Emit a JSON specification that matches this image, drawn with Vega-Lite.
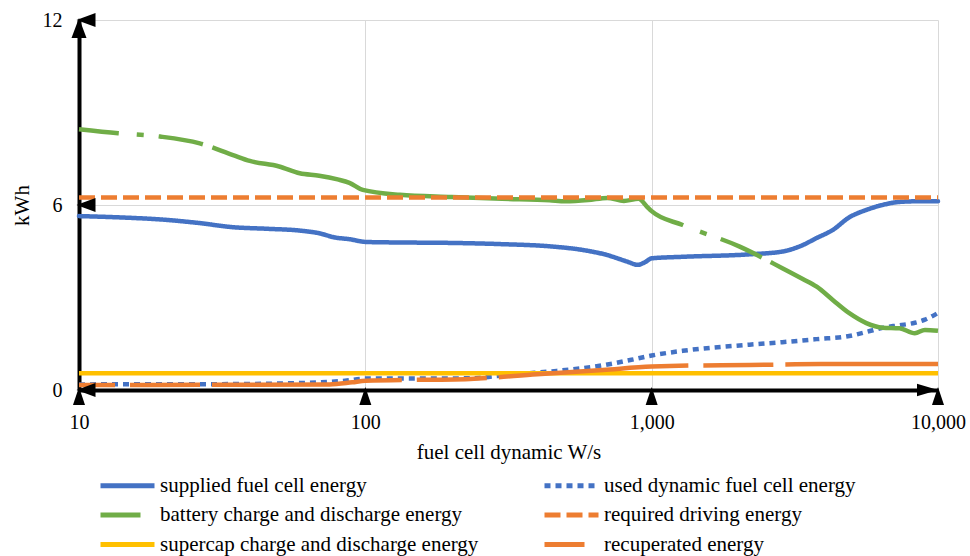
{
  "$schema": "https://vega.github.io/schema/vega-lite/v6.json",
  "width": 859,
  "height": 370,
  "autosize": {"type": "none"},
  "padding": {"left": 79, "top": 20, "right": 32, "bottom": 166},
  "background": "white",
  "config": {
    "font": "Liberation Serif",
    "view": {"stroke": null},
    "legend": {"labelFont": "Liberation Serif", "titleFont": "Liberation Serif"},
    "axis": {
      "grid": true,
      "gridColor": "#d9d9d9",
      "gridWidth": 1,
      "domainColor": "black",
      "domainWidth": 4,
      "ticks": false,
      "labelColor": "black",
      "labelFont": "Liberation Serif",
      "labelFontSize": 20,
      "titleFont": "Liberation Serif",
      "titleFontSize": 21,
      "titleFontWeight": "normal",
      "titleColor": "black",
      "labelOverlap": false,
      "labelFlush": false
    }
  },
  "datasets": {
    "lines": [
      {"s": "supplied fuel cell energy", "x": 10, "y": 5.64},
      {"s": "supplied fuel cell energy", "x": 13.7, "y": 5.6},
      {"s": "supplied fuel cell energy", "x": 20, "y": 5.52},
      {"s": "supplied fuel cell energy", "x": 26, "y": 5.42},
      {"s": "supplied fuel cell energy", "x": 34.5, "y": 5.28},
      {"s": "supplied fuel cell energy", "x": 45, "y": 5.23},
      {"s": "supplied fuel cell energy", "x": 59, "y": 5.17},
      {"s": "supplied fuel cell energy", "x": 70, "y": 5.07},
      {"s": "supplied fuel cell energy", "x": 77, "y": 4.96},
      {"s": "supplied fuel cell energy", "x": 88, "y": 4.89},
      {"s": "supplied fuel cell energy", "x": 101, "y": 4.8},
      {"s": "supplied fuel cell energy", "x": 150, "y": 4.78},
      {"s": "supplied fuel cell energy", "x": 200, "y": 4.77},
      {"s": "supplied fuel cell energy", "x": 300, "y": 4.73},
      {"s": "supplied fuel cell energy", "x": 440, "y": 4.66},
      {"s": "supplied fuel cell energy", "x": 575, "y": 4.54},
      {"s": "supplied fuel cell energy", "x": 697, "y": 4.38},
      {"s": "supplied fuel cell energy", "x": 818, "y": 4.17},
      {"s": "supplied fuel cell energy", "x": 894, "y": 4.06},
      {"s": "supplied fuel cell energy", "x": 950, "y": 4.15},
      {"s": "supplied fuel cell energy", "x": 1000, "y": 4.27},
      {"s": "supplied fuel cell energy", "x": 1283, "y": 4.32},
      {"s": "supplied fuel cell energy", "x": 2196, "y": 4.4},
      {"s": "supplied fuel cell energy", "x": 2860, "y": 4.49},
      {"s": "supplied fuel cell energy", "x": 3370, "y": 4.7},
      {"s": "supplied fuel cell energy", "x": 3770, "y": 4.93},
      {"s": "supplied fuel cell energy", "x": 4290, "y": 5.19},
      {"s": "supplied fuel cell energy", "x": 4900, "y": 5.6},
      {"s": "supplied fuel cell energy", "x": 5620, "y": 5.84},
      {"s": "supplied fuel cell energy", "x": 6400, "y": 6.0},
      {"s": "supplied fuel cell energy", "x": 7340, "y": 6.1},
      {"s": "supplied fuel cell energy", "x": 8500, "y": 6.12},
      {"s": "supplied fuel cell energy", "x": 10000, "y": 6.12},

      {"s": "used dynamic fuel cell energy", "x": 10, "y": 0.18},
      {"s": "used dynamic fuel cell energy", "x": 20, "y": 0.19},
      {"s": "used dynamic fuel cell energy", "x": 30, "y": 0.19},
      {"s": "used dynamic fuel cell energy", "x": 50, "y": 0.21},
      {"s": "used dynamic fuel cell energy", "x": 70, "y": 0.25},
      {"s": "used dynamic fuel cell energy", "x": 85, "y": 0.3},
      {"s": "used dynamic fuel cell energy", "x": 100, "y": 0.37},
      {"s": "used dynamic fuel cell energy", "x": 150, "y": 0.37},
      {"s": "used dynamic fuel cell energy", "x": 232, "y": 0.38},
      {"s": "used dynamic fuel cell energy", "x": 288, "y": 0.45},
      {"s": "used dynamic fuel cell energy", "x": 350, "y": 0.52},
      {"s": "used dynamic fuel cell energy", "x": 466, "y": 0.62},
      {"s": "used dynamic fuel cell energy", "x": 675, "y": 0.8},
      {"s": "used dynamic fuel cell energy", "x": 850, "y": 0.98},
      {"s": "used dynamic fuel cell energy", "x": 1000, "y": 1.12},
      {"s": "used dynamic fuel cell energy", "x": 1283, "y": 1.27},
      {"s": "used dynamic fuel cell energy", "x": 2196, "y": 1.47},
      {"s": "used dynamic fuel cell energy", "x": 2860, "y": 1.55},
      {"s": "used dynamic fuel cell energy", "x": 3770, "y": 1.65},
      {"s": "used dynamic fuel cell energy", "x": 4900, "y": 1.75},
      {"s": "used dynamic fuel cell energy", "x": 5620, "y": 1.88},
      {"s": "used dynamic fuel cell energy", "x": 6400, "y": 2.02},
      {"s": "used dynamic fuel cell energy", "x": 7340, "y": 2.1},
      {"s": "used dynamic fuel cell energy", "x": 8300, "y": 2.18},
      {"s": "used dynamic fuel cell energy", "x": 9000, "y": 2.28},
      {"s": "used dynamic fuel cell energy", "x": 10000, "y": 2.5},

      {"s": "battery charge and discharge energy", "x": 10, "y": 8.46},
      {"s": "battery charge and discharge energy", "x": 13.7, "y": 8.33},
      {"s": "battery charge and discharge energy", "x": 19.2, "y": 8.22},
      {"s": "battery charge and discharge energy", "x": 26.4, "y": 8.0},
      {"s": "battery charge and discharge energy", "x": 34.5, "y": 7.62},
      {"s": "battery charge and discharge energy", "x": 39.5, "y": 7.43},
      {"s": "battery charge and discharge energy", "x": 50, "y": 7.25},
      {"s": "battery charge and discharge energy", "x": 59, "y": 7.03},
      {"s": "battery charge and discharge energy", "x": 69, "y": 6.95},
      {"s": "battery charge and discharge energy", "x": 80, "y": 6.83},
      {"s": "battery charge and discharge energy", "x": 88, "y": 6.72},
      {"s": "battery charge and discharge energy", "x": 98, "y": 6.49},
      {"s": "battery charge and discharge energy", "x": 132, "y": 6.33},
      {"s": "battery charge and discharge energy", "x": 200, "y": 6.26},
      {"s": "battery charge and discharge energy", "x": 300, "y": 6.2},
      {"s": "battery charge and discharge energy", "x": 440, "y": 6.15},
      {"s": "battery charge and discharge energy", "x": 500, "y": 6.12},
      {"s": "battery charge and discharge energy", "x": 600, "y": 6.16},
      {"s": "battery charge and discharge energy", "x": 700, "y": 6.23},
      {"s": "battery charge and discharge energy", "x": 800, "y": 6.13},
      {"s": "battery charge and discharge energy", "x": 900, "y": 6.2},
      {"s": "battery charge and discharge energy", "x": 962, "y": 5.95},
      {"s": "battery charge and discharge energy", "x": 1000, "y": 5.8},
      {"s": "battery charge and discharge energy", "x": 1283, "y": 5.35},
      {"s": "battery charge and discharge energy", "x": 2030, "y": 4.65},
      {"s": "battery charge and discharge energy", "x": 2860, "y": 3.95},
      {"s": "battery charge and discharge energy", "x": 3370, "y": 3.6},
      {"s": "battery charge and discharge energy", "x": 3770, "y": 3.35},
      {"s": "battery charge and discharge energy", "x": 4290, "y": 2.92},
      {"s": "battery charge and discharge energy", "x": 4900, "y": 2.49},
      {"s": "battery charge and discharge energy", "x": 5620, "y": 2.17},
      {"s": "battery charge and discharge energy", "x": 6400, "y": 2.02},
      {"s": "battery charge and discharge energy", "x": 7340, "y": 2.0},
      {"s": "battery charge and discharge energy", "x": 8300, "y": 1.84},
      {"s": "battery charge and discharge energy", "x": 9000, "y": 1.95},
      {"s": "battery charge and discharge energy", "x": 10000, "y": 1.92},

      {"s": "required driving energy", "x": 10, "y": 6.24},
      {"s": "required driving energy", "x": 10000, "y": 6.24},

      {"s": "supercap charge and discharge energy", "x": 10, "y": 0.54},
      {"s": "supercap charge and discharge energy", "x": 10000, "y": 0.54},

      {"s": "recuperated energy", "x": 10, "y": 0.16},
      {"s": "recuperated energy", "x": 30, "y": 0.17},
      {"s": "recuperated energy", "x": 75, "y": 0.18},
      {"s": "recuperated energy", "x": 90, "y": 0.25},
      {"s": "recuperated energy", "x": 100, "y": 0.3},
      {"s": "recuperated energy", "x": 232, "y": 0.36},
      {"s": "recuperated energy", "x": 398, "y": 0.51},
      {"s": "recuperated energy", "x": 675, "y": 0.65},
      {"s": "recuperated energy", "x": 1000, "y": 0.76},
      {"s": "recuperated energy", "x": 1157, "y": 0.78},
      {"s": "recuperated energy", "x": 2196, "y": 0.81},
      {"s": "recuperated energy", "x": 3900, "y": 0.84},
      {"s": "recuperated energy", "x": 10000, "y": 0.84}
    ],
    "xticks": [{"x": 10, "y": 0}, {"x": 100, "y": 0}, {"x": 1000, "y": 0}, {"x": 10000, "y": 0}],
    "yticks": [{"x": 10, "y": 0}, {"x": 10, "y": 6}, {"x": 10, "y": 12}],
    "ytop": [{"x": 10, "y": 12}],
    "xend": [{"x": 10000, "y": 0}]
  },
  "encoding": {
    "x": {
      "field": "x",
      "type": "quantitative",
      "scale": {"type": "log", "domain": [10, 10000], "nice": false},
      "axis": {"values": [10, 100, 1000, 10000], "format": ",", "labelPadding": 22, "title": "fuel cell dynamic W/s", "titlePadding": 9}
    },
    "y": {
      "field": "y",
      "type": "quantitative",
      "scale": {"domain": [0, 12], "nice": false, "zero": false},
      "axis": {"values": [0, 6, 12], "labelPadding": 17, "title": "kWh", "titlePadding": 10}
    }
  },
  "layer": [
    {
      "data": {"name": "lines"},
      "transform": [{"filter": "datum.s === 'supplied fuel cell energy'"}],
      "mark": {"type": "line", "strokeWidth": 4.5, "strokeCap": "round", "interpolate": "monotone"},
      "encoding": {
        "color": {"field": "s", "type": "nominal",
          "scale": {"domain": ["supplied fuel cell energy", "battery charge and discharge energy", "supercap charge and discharge energy", "used dynamic fuel cell energy", "required driving energy", "recuperated energy"],
                    "range": ["#4472C4", "#70AD47", "#FFC000", "#4472C4", "#ED7D31", "#ED7D31"]},
          "legend": {
            "orient": "none", "legendX": 31, "legendY": 448, "columns": 2, "title": null,
            "symbolType": "M-1.8,0H1.8", "symbolSize": 900, "symbolStrokeWidth": 5,
            "labelFontSize": 21, "labelFont": "Liberation Serif", "labelColor": "black",
            "labelOffset": 15, "rowPadding": 1.5, "columnPadding": 55, "labelLimit": 600, "padding": 0,
            "encode": {"symbols": {"update": {"strokeDashOffset": [
              {"test": "datum.value === 'battery charge and discharge energy'", "value": 447},
              {"test": "datum.value === 'recuperated energy'", "value": 150},
              {"value": 0}]}}}
          }
        },
        "strokeDash": {"field": "s", "type": "nominal",
          "scale": {"domain": ["supplied fuel cell energy", "battery charge and discharge energy", "supercap charge and discharge energy", "used dynamic fuel cell energy", "required driving energy", "recuperated energy"],
                    "range": [[1, 0], [487, 18, 7, 15, 45, 10], [1, 0], [6, 5], [16, 6], [190, 15, 70, 12]]}}
      }
    },
    {
      "data": {"name": "lines"},
      "transform": [{"filter": "datum.s === 'used dynamic fuel cell energy'"}],
      "mark": {"type": "line", "strokeWidth": 4.5, "interpolate": "monotone"},
      "encoding": {"color": {"field": "s", "type": "nominal"}, "strokeDash": {"field": "s", "type": "nominal"}}
    },
    {
      "data": {"name": "lines"},
      "transform": [{"filter": "datum.s === 'battery charge and discharge energy'"}],
      "mark": {"type": "line", "strokeWidth": 4.5, "strokeDashOffset": 447, "interpolate": "monotone"},
      "encoding": {"color": {"field": "s", "type": "nominal"}, "strokeDash": {"field": "s", "type": "nominal"}}
    },
    {
      "data": {"name": "lines"},
      "transform": [{"filter": "datum.s === 'required driving energy'"}],
      "mark": {"type": "line", "strokeWidth": 4.5},
      "encoding": {"color": {"field": "s", "type": "nominal"}, "strokeDash": {"field": "s", "type": "nominal"}}
    },
    {
      "data": {"name": "lines"},
      "transform": [{"filter": "datum.s === 'supercap charge and discharge energy'"}],
      "mark": {"type": "line", "strokeWidth": 4.5},
      "encoding": {"color": {"field": "s", "type": "nominal"}, "strokeDash": {"field": "s", "type": "nominal"}}
    },
    {
      "data": {"name": "lines"},
      "transform": [{"filter": "datum.s === 'recuperated energy'"}],
      "mark": {"type": "line", "strokeWidth": 4.5, "strokeDashOffset": 154, "interpolate": "monotone"},
      "encoding": {"color": {"field": "s", "type": "nominal"}, "strokeDash": {"field": "s", "type": "nominal"}}
    },
    {
      "data": {"name": "xticks"},
      "mark": {"type": "point", "shape": "M0,-1L0.667,1L-0.667,1Z", "size": 324, "filled": true, "color": "black", "opacity": 1, "strokeWidth": 0, "yOffset": 6}
    },
    {
      "data": {"name": "yticks"},
      "mark": {"type": "point", "shape": "M-1,0L1,-0.737L1,0.737Z", "size": 361, "filled": true, "color": "black", "opacity": 1, "strokeWidth": 0, "xOffset": 7}
    },
    {
      "data": {"name": "ytop"},
      "mark": {"type": "point", "shape": "M0,-1L0.75,1L-0.75,1Z", "size": 400, "filled": true, "color": "black", "opacity": 1, "strokeWidth": 0, "yOffset": 8}
    },
    {
      "data": {"name": "xend"},
      "mark": {"type": "point", "shape": "M1,0L-1,-0.6L-1,0.6Z", "size": 441, "filled": true, "color": "black", "opacity": 1, "strokeWidth": 0, "xOffset": -10.5}
    }
  ]
}
